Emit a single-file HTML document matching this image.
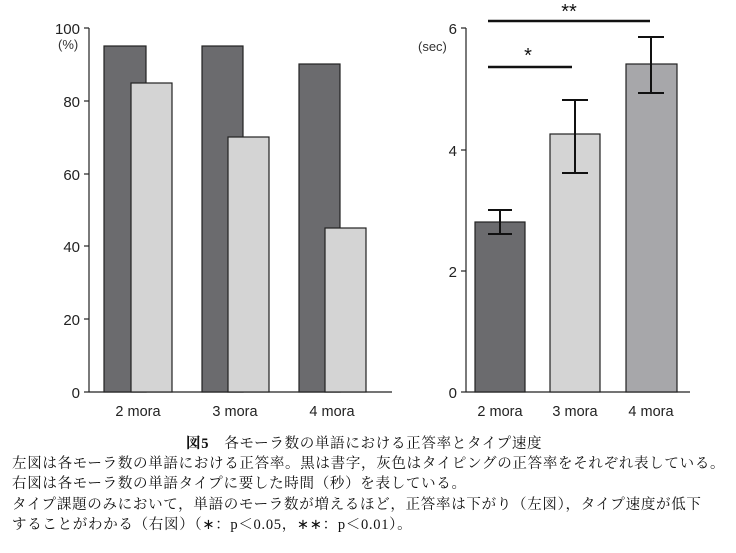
<!DOCTYPE html><html><head><style>body{margin:0;background:#fff}svg text{font-family:"Liberation Sans",sans-serif}.c{font-family:"Liberation Serif","Noto Serif CJK SC",serif;font-size:14.5px;color:#111;position:absolute;left:12px;white-space:nowrap;letter-spacing:0.7px}</style></head><body>
<div style="position:relative;width:736px;height:553px;overflow:hidden">
<svg width="736" height="430" style="position:absolute;left:0;top:0">
<g stroke="#222" stroke-width="1.2">
<line x1="89" y1="28" x2="89" y2="392"/><line x1="89" y1="392" x2="392" y2="392"/>
<line x1="84" y1="28" x2="89" y2="28"/><line x1="84" y1="101" x2="89" y2="101"/><line x1="84" y1="174" x2="89" y2="174"/><line x1="84" y1="246" x2="89" y2="246"/><line x1="84" y1="319" x2="89" y2="319"/><line x1="84" y1="392" x2="89" y2="392"/>
<rect x="104" y="46" width="42" height="346" fill="#6b6b6e"/><rect x="131" y="83" width="41" height="309" fill="#d4d4d4"/>
<rect x="202" y="46" width="41" height="346" fill="#6b6b6e"/><rect x="228" y="137" width="41" height="255" fill="#d4d4d4"/>
<rect x="299" y="64" width="41" height="328" fill="#6b6b6e"/><rect x="325" y="228" width="41" height="164" fill="#d4d4d4"/>
<line x1="466" y1="28" x2="466" y2="392"/><line x1="466" y1="392" x2="690" y2="392"/>
<line x1="461" y1="28" x2="466" y2="28"/><line x1="461" y1="150" x2="466" y2="150"/><line x1="461" y1="271" x2="466" y2="271"/><line x1="461" y1="392" x2="466" y2="392"/>
<rect x="475" y="222" width="50" height="170" fill="#6b6b6e"/><rect x="550" y="134" width="50" height="258" fill="#d4d4d4"/><rect x="626" y="64" width="51" height="328" fill="#a7a7aa"/>
</g>
<g stroke="#111" stroke-width="2">
<line x1="500" y1="210" x2="500" y2="234"/><line x1="488" y1="210" x2="512" y2="210"/><line x1="488" y1="234" x2="512" y2="234"/>
<line x1="575" y1="100" x2="575" y2="173"/><line x1="562" y1="100" x2="588" y2="100"/><line x1="562" y1="173" x2="588" y2="173"/>
<line x1="651" y1="37" x2="651" y2="93"/><line x1="638" y1="37" x2="664" y2="37"/><line x1="638" y1="93" x2="664" y2="93"/>
<line x1="488" y1="21" x2="650" y2="21" stroke-width="2.5"/><line x1="488" y1="67" x2="572" y2="67" stroke-width="2.5"/>
</g>
<g font-size="15" fill="#222" text-anchor="end">
<text x="80" y="34">100</text><text x="80" y="107">80</text><text x="80" y="180">60</text><text x="80" y="252">40</text><text x="80" y="325">20</text><text x="80" y="398">0</text>
<text x="457" y="34">6</text><text x="457" y="156">4</text><text x="457" y="277">2</text><text x="457" y="398">0</text>
</g>
<text x="58" y="49" font-size="13" fill="#333">(%)</text>
<text x="418" y="51" font-size="13" fill="#333">(sec)</text>
<g font-size="14.5" fill="#222" text-anchor="middle">
<text x="138" y="416">2 mora</text><text x="235" y="416">3 mora</text><text x="332" y="416">4 mora</text>
<text x="500" y="416">2 mora</text><text x="575" y="416">3 mora</text><text x="651" y="416">4 mora</text>
</g>
<g font-size="20" fill="#111" text-anchor="middle"><text x="528" y="62">*</text><text x="569" y="18">**</text></g>
</svg>
<div class="c" style="top:432px;left:186px"><b>図5</b>　各モーラ数の単語における正答率とタイプ速度</div>
<div class="c" style="top:452px">左図は各モーラ数の単語における正答率。黒は書字，灰色はタイピングの正答率をそれぞれ表している。</div>
<div class="c" style="top:472px">右図は各モーラ数の単語タイプに要した時間（秒）を表している。</div>
<div class="c" style="top:493px">タイプ課題のみにおいて，単語のモーラ数が増えるほど，正答率は下がり（左図），タイプ速度が低下</div>
<div class="c" style="top:513px">することがわかる（右図）（∗：p＜0.05，∗∗：p＜0.01）。</div>
</div></body></html>
